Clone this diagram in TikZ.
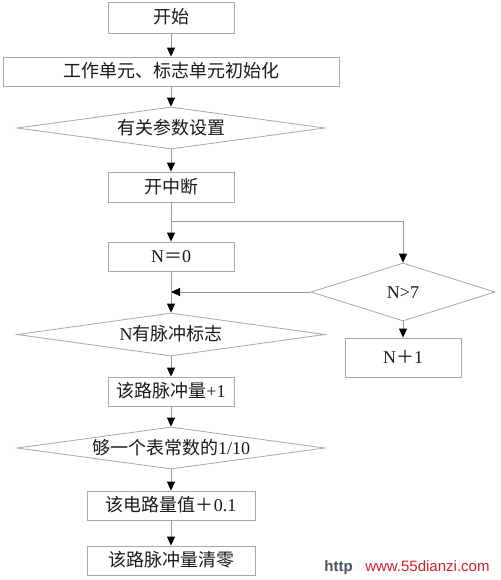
\documentclass[tikz,border=0pt]{standalone}
\usepackage{fontspec}
\setmainfont{Liberation Serif}
\newfontfamily\cjk{Noto Sans CJK SC}
\newfontfamily\wmfont{Liberation Sans}
\usetikzlibrary{shapes.geometric,arrows.meta}
\definecolor{boxgray}{HTML}{A8A8A8}
\definecolor{linegray}{HTML}{9A9A9A}
\definecolor{wmred}{HTML}{D0202A}
\definecolor{wmblue}{HTML}{4A5060}
\definecolor{txt}{HTML}{1A1A1A}
\newcommand\ctext[1]{\raisebox{-0.36em}[0pt][0pt]{\makebox[0pt]{#1}}}
\begin{document}
\begin{tikzpicture}[x=1pt,y=-1pt,
  box/.style={draw=boxgray, line width=0.8pt, rectangle, inner sep=0pt,
    text=txt, font=\fontsize{18}{18}\selectfont},
  dia/.style={draw=boxgray, line width=0.8pt, diamond, inner sep=0pt,
    text=txt, font=\fontsize{18}{18}\selectfont},
  conn/.style={draw=linegray, line width=0.9pt,
    -{Triangle[length=9pt,width=8pt,color=black]}}]
\useasboundingbox (0,0) rectangle (500,580);
\fill[white] (0,0) rectangle (500,580);

\node[box, minimum width=126pt, minimum height=31pt] (start) at (171,17.5) {\ctext{\cjk 开始}};
\node[box, minimum width=336pt, minimum height=29pt] (init) at (171,71.5) {\ctext{\cjk 工作单元、标志单元初始化}};
\node[dia, minimum width=308pt, minimum height=42pt] (param) at (171,128) {\ctext{\cjk 有关参数设置}};
\node[box, minimum width=126pt, minimum height=30pt] (intr) at (171,187) {\ctext{\cjk 开中断}};
\node[box, minimum width=126pt, minimum height=29pt] (nzero) at (171,256.5) {\ctext{N{\cjk ＝}0}};
\node[dia, minimum width=184pt, minimum height=58pt] (ngt) at (403,292) {\ctext{N>7}};
\node[box, minimum width=116pt, minimum height=39pt] (ninc) at (403,357.5) {\ctext{N{\cjk ＋}1}};
\node[dia, minimum width=308pt, minimum height=43pt] (flag) at (171,334.5) {\ctext{N{\cjk 有脉冲标志}}};
\node[box, minimum width=126pt, minimum height=29pt] (pinc) at (171,391.5) {\ctext{{\cjk 该路脉冲量}+1}};
\node[dia, minimum width=308pt, minimum height=42pt] (tenth) at (171,448) {\ctext{{\cjk 够一个表常数的}1/10}};
\node[box, minimum width=168pt, minimum height=29pt] (val) at (171,505.5) {\ctext{{\cjk 该电路量值＋}0.1}};
\node[box, minimum width=168pt, minimum height=29pt] (clr) at (171,560.5) {\ctext{\cjk 该路脉冲量清零}};

\coordinate (br) at (171,221);
\coordinate (mg) at (171,292);

\draw[conn] (start) -- (init);
\draw[conn] (init) -- (param);
\draw[conn] (param) -- (intr);
\draw[conn] (intr) -- (nzero);
\draw[conn] (br) -| (ngt.north);
\draw[conn] (ngt.west) -- (mg);
\draw[conn] (nzero) -- (flag.north);
\draw[conn] (ngt.south) -- (ninc);
\draw[conn] (flag.south) -- (pinc);
\draw[conn] (pinc) -- (tenth.north);
\draw[conn] (tenth.south) -- (val);
\draw[conn] (val) -- (clr);

\node[font=\wmfont\fontsize{15}{15}\selectfont, inner sep=0pt] (wm) at (407,566)
  {\ctext{{\bfseries\color{wmblue}http}{\color{black!6}://}{\color{wmred}www.55dianzi.com}}};
\end{tikzpicture}
\end{document}
